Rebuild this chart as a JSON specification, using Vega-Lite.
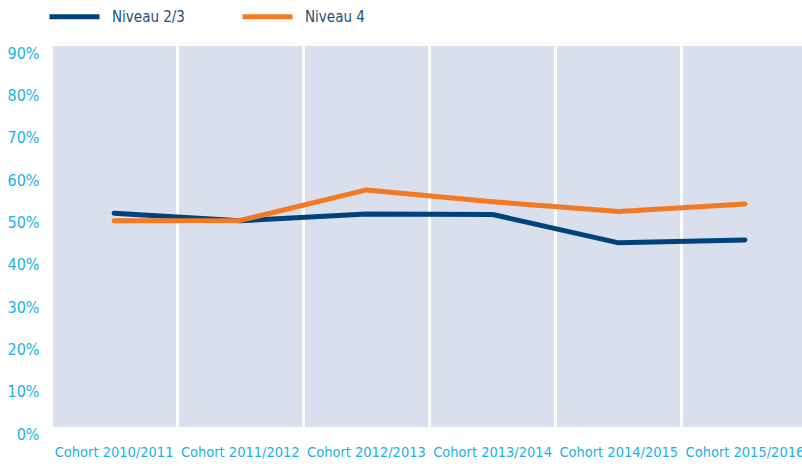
{
  "$schema": "https://vega.github.io/schema/vega-lite/v6.json",
  "width": 751,
  "height": 381,
  "autosize": {"type": "none"},
  "padding": {"left": 51, "top": 46, "right": 0, "bottom": 39},
  "config": {
    "view": {"fill": "#d9dfed", "stroke": null},
    "font": "'DejaVu Sans Condensed', 'Liberation Sans', sans-serif"
  },
  "data": {
    "values": [
      {"cohort": "Cohort 2010/2011", "serie": "Niveau 2/3", "pct": 50.5},
      {"cohort": "Cohort 2011/2012", "serie": "Niveau 2/3", "pct": 48.7},
      {"cohort": "Cohort 2012/2013", "serie": "Niveau 2/3", "pct": 50.3},
      {"cohort": "Cohort 2013/2014", "serie": "Niveau 2/3", "pct": 50.2},
      {"cohort": "Cohort 2014/2015", "serie": "Niveau 2/3", "pct": 43.5},
      {"cohort": "Cohort 2015/2016", "serie": "Niveau 2/3", "pct": 44.2},
      {"cohort": "Cohort 2010/2011", "serie": "Niveau 4", "pct": 48.7},
      {"cohort": "Cohort 2011/2012", "serie": "Niveau 4", "pct": 48.8},
      {"cohort": "Cohort 2012/2013", "serie": "Niveau 4", "pct": 56.0},
      {"cohort": "Cohort 2013/2014", "serie": "Niveau 4", "pct": 53.2},
      {"cohort": "Cohort 2014/2015", "serie": "Niveau 4", "pct": 50.9},
      {"cohort": "Cohort 2015/2016", "serie": "Niveau 4", "pct": 52.7}
    ]
  },
  "mark": {"type": "line", "strokeWidth": 5, "strokeCap": "round", "strokeJoin": "round"},
  "encoding": {
    "x": {
      "field": "cohort",
      "type": "nominal",
      "sort": null,
      "title": null,
      "scale": {"type": "band", "paddingInner": 0, "paddingOuter": 0, "range": [0, 757]},
      "axis": {
        "domain": false,
        "ticks": false,
        "grid": true,
        "gridColor": "#ffffff",
        "gridWidth": 3,
        "gridOpacity": 1,
        "bandPosition": 0,
        "labelAngle": 0,
        "labelColor": "#1ab0e8",
        "labelFontSize": 14.5,
        "labelPadding": 18,
        "labelLimit": 0
      }
    },
    "y": {
      "field": "pct",
      "type": "quantitative",
      "title": null,
      "scale": {"domain": [0, 90], "nice": false, "zero": true},
      "axis": {
        "values": [0, 10, 20, 30, 40, 50, 60, 70, 80, 90],
        "labelExpr": "datum.value + '%'",
        "domain": false,
        "ticks": false,
        "grid": false,
        "labelColor": "#1ab0e8",
        "labelFontSize": 16,
        "labelPadding": 12,
        "labelOffset": 7
      }
    },
    "color": {
      "field": "serie",
      "type": "nominal",
      "scale": {"domain": ["Niveau 2/3", "Niveau 4"], "range": ["#00437a", "#f47920"]},
      "legend": {
        "title": null,
        "orient": "none",
        "legendX": -4,
        "legendY": -57,
        "direction": "horizontal",
        "symbolType": "stroke",
        "symbolSize": 2500,
        "symbolStrokeWidth": 5,
        "labelColor": "#1f4e79",
        "labelFontSize": 15,
        "labelOffset": 10,
        "columnPadding": 47,
        "labelLimit": 0
      }
    }
  }
}
